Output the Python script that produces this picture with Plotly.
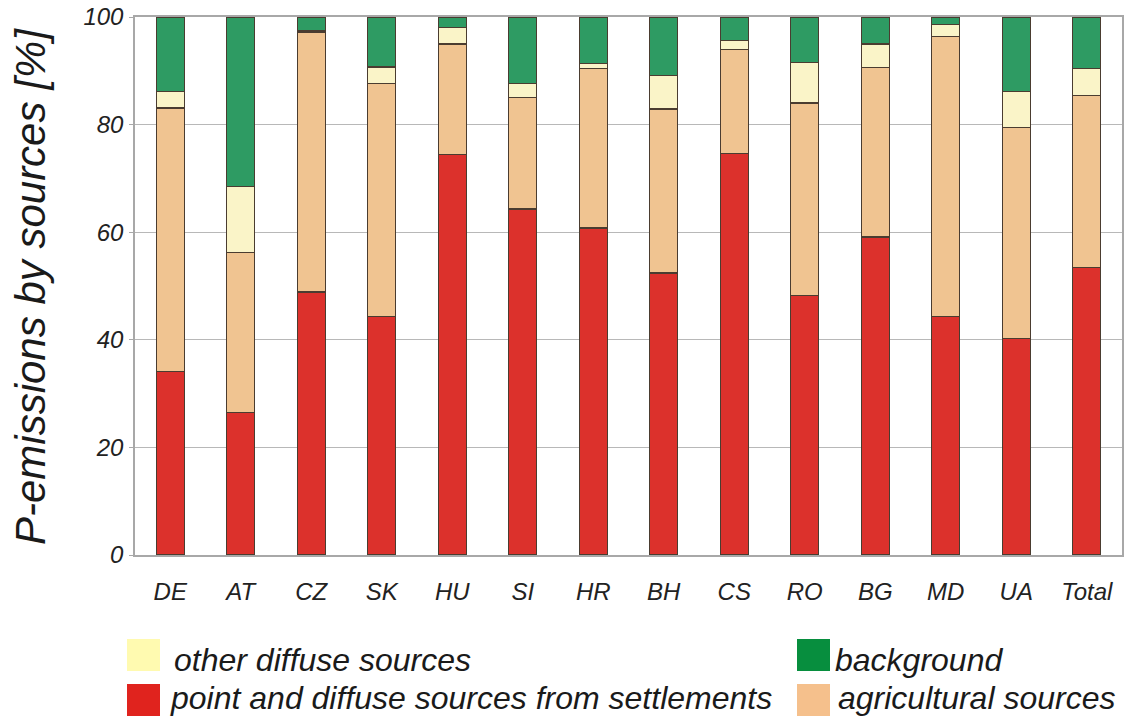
import plotly.graph_objects as go

countries = ["DE", "AT", "CZ", "SK", "HU", "SI", "HR", "BH", "CS", "RO", "BG", "MD", "UA", "Total"]
settlements = [34.1, 26.5, 48.9, 44.4, 74.5, 64.3, 60.8, 52.4, 74.7, 48.2, 59.1, 44.4, 40.2, 53.5]
agricultural = [49.0, 29.7, 48.3, 43.3, 20.5, 20.7, 29.6, 30.5, 19.2, 35.8, 31.5, 52.0, 39.2, 31.9]
other_diffuse = [3.0, 12.3, 0.3, 3.0, 3.0, 2.6, 0.9, 6.2, 1.7, 7.6, 4.4, 2.2, 6.8, 5.0]
background = [13.9, 31.5, 2.5, 9.3, 2.0, 12.4, 8.7, 10.9, 4.4, 8.4, 5.0, 1.4, 13.8, 9.6]
y_ticks = [0, 20, 40, 60, 80, 100]

names = ["point and diffuse sources from settlements", "agricultural sources",
         "other diffuse sources", "background"]
bar_colors = ["#DC312C", "#F0C491", "#FAF4C8", "#2E9B63"]
legend_colors = ["#E0231E", "#F5C08C", "#FFFAB0", "#078E3E"]

W, H = 1132, 717
# plot area in pixels
L, R, T, B = 135, 1122, 17, 555

fig = go.Figure()
for vals, name, col in zip([settlements, agricultural, other_diffuse, background], names, bar_colors):
    fig.add_trace(go.Bar(
        x=countries, y=vals, name=name, showlegend=False,
        marker=dict(color=col, line=dict(color="#4a3c30", width=1.2)),
    ))

FONT = "Liberation Sans, Arial, sans-serif"

def px_x(px):
    return (px - L) / (R - L)

def px_y(py):
    return (B - py) / (B - T)

shapes = []
annotations = []
# (swatch x, swatch y, text x, text y, series index) in pixels
legend_items = [
    (127, 639, 172, 660, 2),
    (127, 684, 168, 698, 0),
    (797, 639, 833, 660, 3),
    (797, 684, 836, 698, 1),
]
for sx, sy, tx, ty, idx in legend_items:
    shapes.append(dict(type="rect", xref="paper", yref="paper",
                       x0=px_x(sx), x1=px_x(sx + 33), y0=px_y(sy + 32), y1=px_y(sy),
                       fillcolor=legend_colors[idx], line=dict(width=0)))
    annotations.append(dict(xref="paper", yref="paper", x=px_x(tx), y=px_y(ty),
                            xanchor="left", yanchor="middle", showarrow=False,
                            text=names[idx],
                            font=dict(family=FONT, size=32, color="#1a1a1a", style="italic")))

annotations.append(dict(xref="paper", yref="paper", x=px_x(30), y=px_y(287),
                        xanchor="center", yanchor="middle", showarrow=False, textangle=-90,
                        text="P-emissions by sources [%]",
                        font=dict(family=FONT, size=42, color="#1a1a1a", style="italic")))

fig.update_layout(
    width=W, height=H,
    margin=dict(l=L, r=W - R, t=T, b=H - B, autoexpand=False),
    barmode="stack", bargap=0.6,
    plot_bgcolor="white", paper_bgcolor="white",
    font=dict(family=FONT, color="#222222", style="italic"),
    shapes=shapes, annotations=annotations,
    xaxis=dict(
        showline=True, mirror=True, linecolor="#a8a8a8", linewidth=1.5,
        showgrid=False, ticks="", ticklabelstandoff=14,
        tickfont=dict(family=FONT, size=24, color="#222222", style="italic"),
        range=[-0.5, 13.5],
    ),
    yaxis=dict(
        range=[0, 100], tickvals=y_ticks, showgrid=True, gridcolor="#b8b8b8", gridwidth=1.2,
        showline=True, mirror=True, linecolor="#a8a8a8", linewidth=1.5,
        ticks="outside", ticklen=4, tickcolor="#a8a8a8", ticklabelstandoff=1,
        ticklabeloverflow="allow",
        tickfont=dict(family=FONT, size=24, color="#222222", style="italic"),
        zeroline=False,
    ),
)

fig.write_html("out.html", config={"displayModeBar": False},
               post_script="document.body.style.margin='0';")
